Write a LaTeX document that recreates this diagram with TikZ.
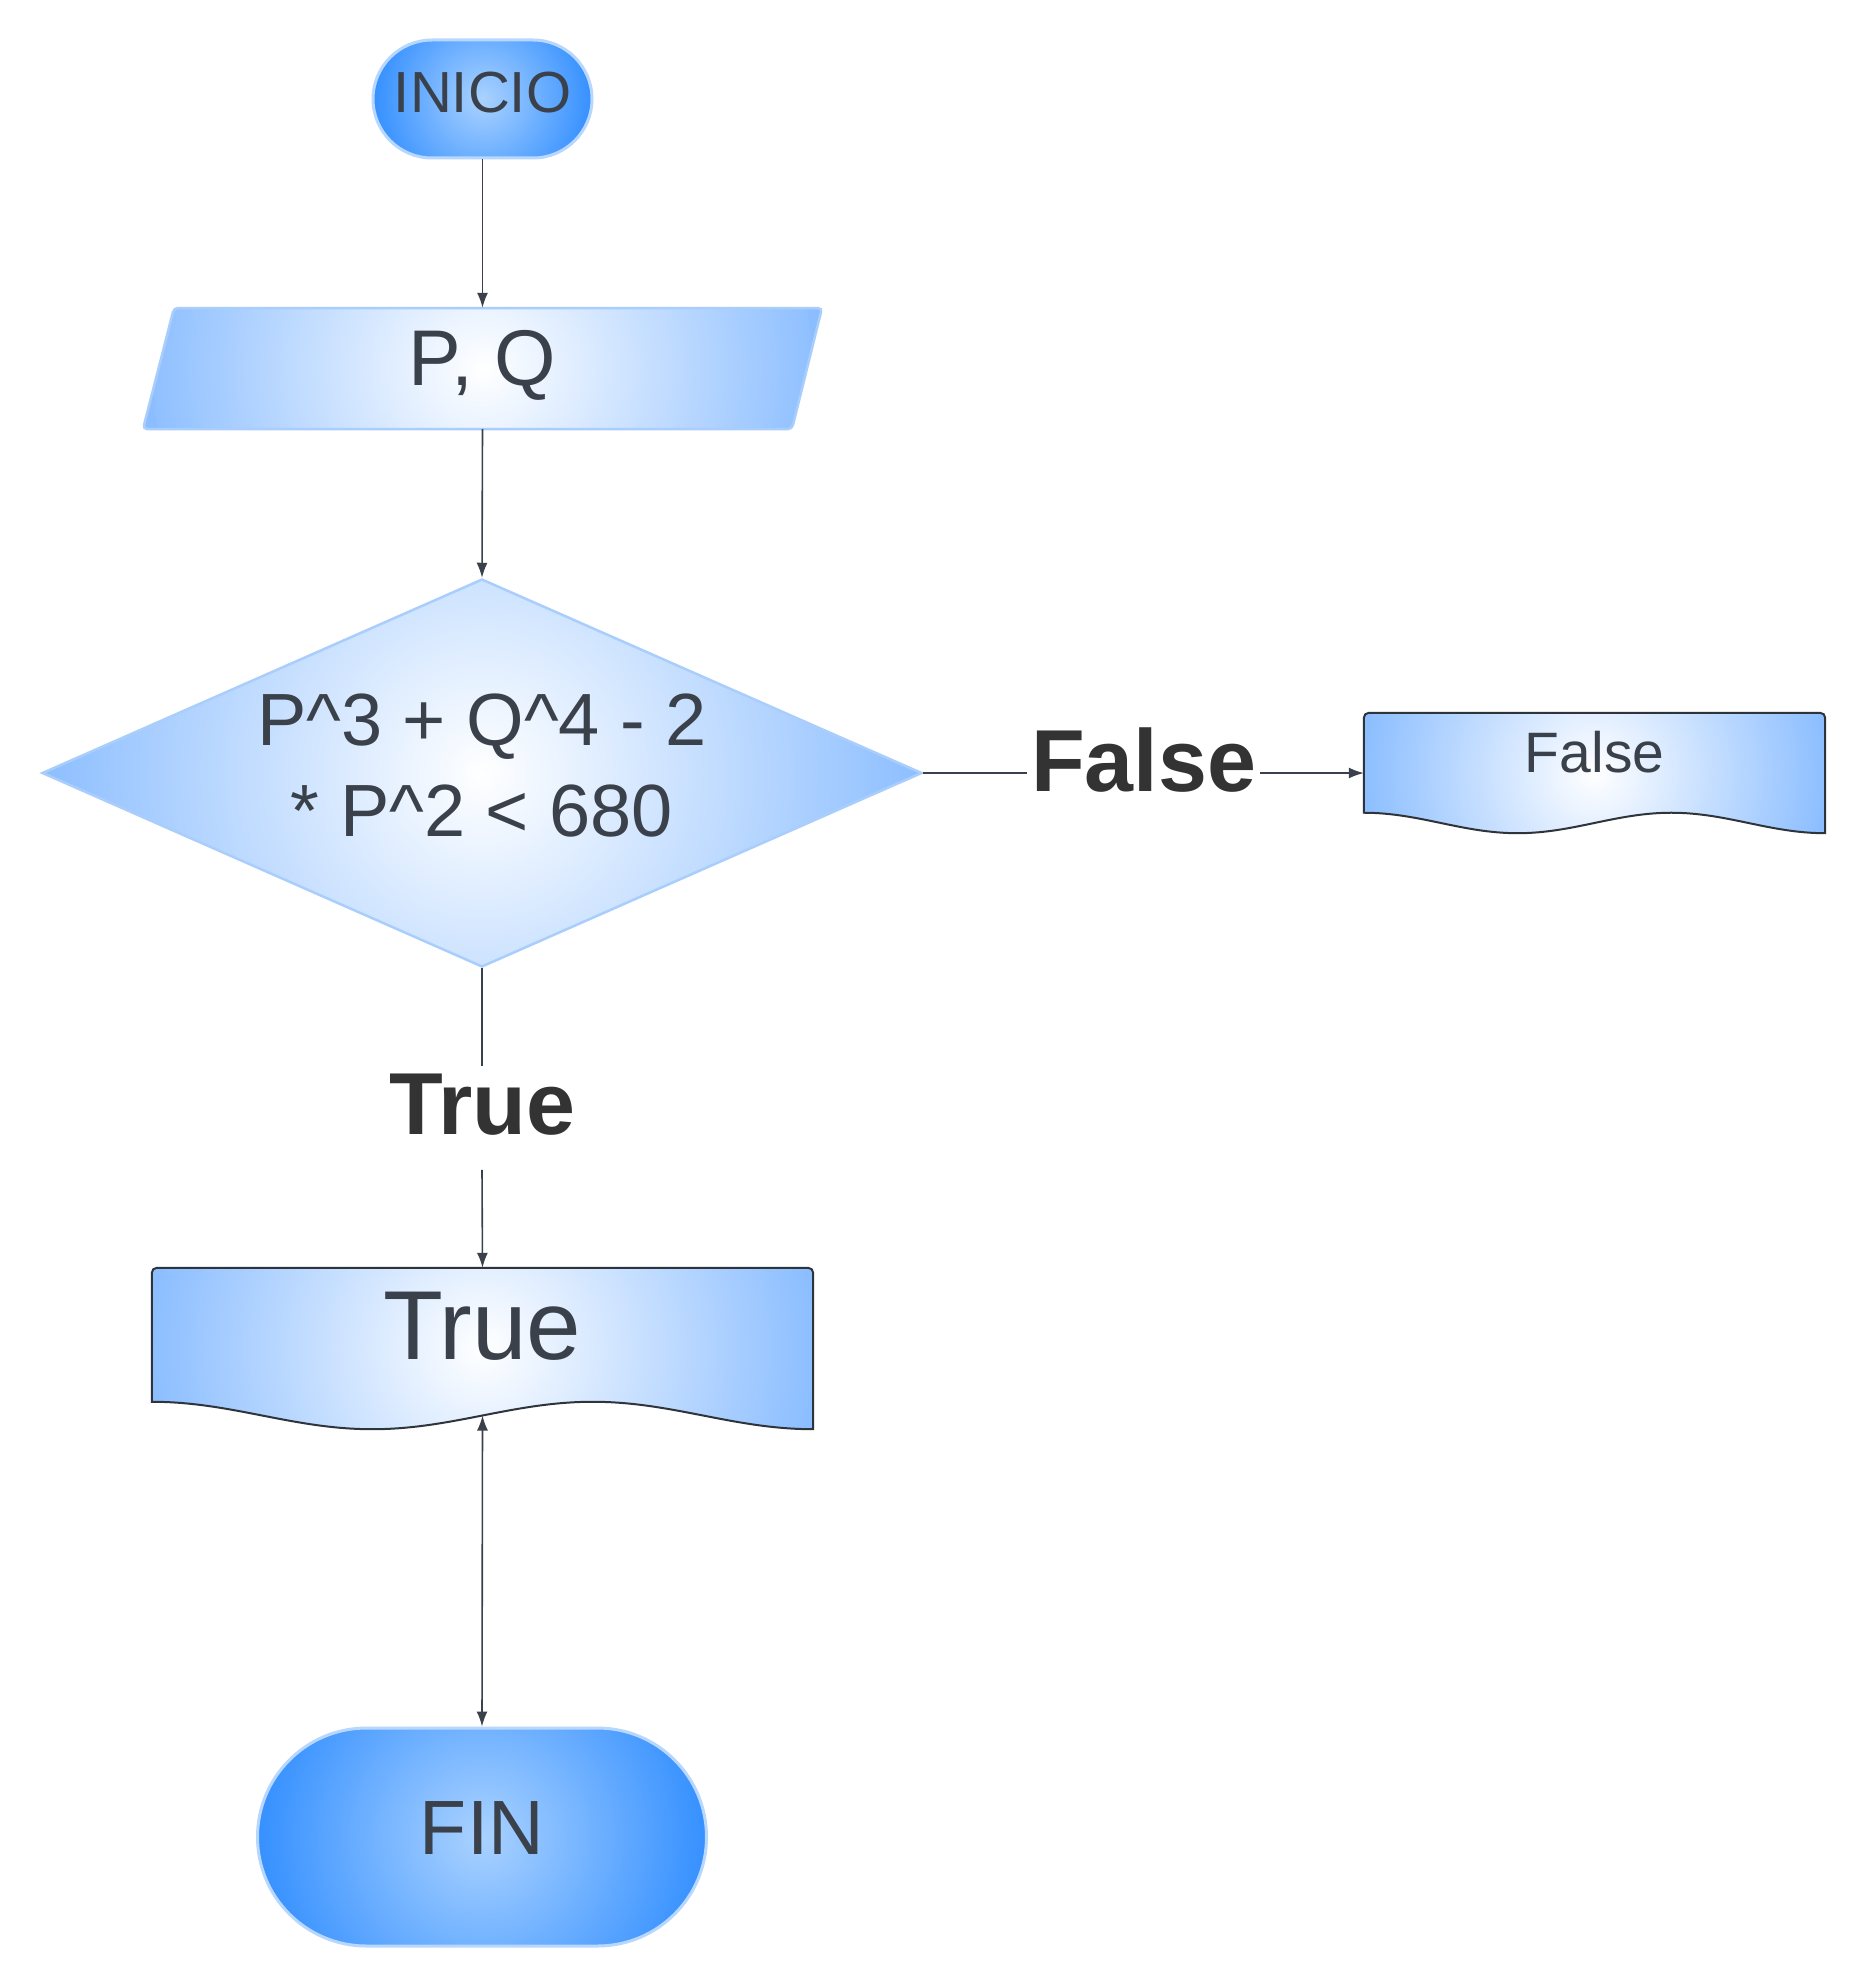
\documentclass[tikz,border=0pt]{standalone}
\usepackage{fontspec}
\setmainfont{Liberation Sans}
\usetikzlibrary{shapes.geometric,arrows.meta,backgrounds,calc}
\definecolor{txt}{HTML}{3A414A}
\definecolor{lbl}{HTML}{333333}
\definecolor{stin}{HTML}{AAD2FF}
\definecolor{stout}{HTML}{3590FF}
\definecolor{stline}{HTML}{B8D7FD}
\definecolor{ltout}{HTML}{8CBEFF}
\definecolor{ltline}{HTML}{AACEFC}
\definecolor{docline}{HTML}{2F343B}
\tikzset{
  glow/.style n args={3}{fill=#2, path picture={\shade[inner color=#1, outer color=#2] (path picture bounding box.center) circle (#3);}},
  stadium/.style={draw=stline, line width=3pt, text=txt, inner sep=0pt},
  lightshape/.style={draw=ltline, line width=2.5pt},
  docshape/.style={draw=docline, line width=2pt},
  plain/.style={inner sep=0pt, text=txt},
  lbl/.style={inner sep=0pt, text=lbl, font=\bfseries\fontsize{88pt}{100pt}\selectfont},
  conn/.style={draw=txt, line width=1.6pt},
  tip/.style={-{Latex[length=15pt,width=11pt]}},
}
\newcommand\docpath[2]{%
  \path[docshape, glow={white}{ltout}{#2}] let \p1=(#1.north west), \p2=(#1.south east),
     \n1={(\x2-\x1)/3}, \n2={0.17*(\y1-\y2)}, \n3={0.363*(\x2-\x1)/3} in
     (\x1,\y2+\n2) [rounded corners=5pt] -- (\x1,\y1) -- (\x2,\y1) [sharp corners] -- (\x2,\y2)
     .. controls (\x2-\n3,\y2) and (\x2-\n1+\n3,\y2+\n2) .. (\x2-\n1,\y2+\n2)
     .. controls (\x2-\n1-\n3,\y2+\n2) and (\x2-2*\n1+\n3,\y2) .. (\x2-2*\n1,\y2)
     .. controls (\x2-2*\n1-\n3,\y2) and (\x1+\n3,\y2+\n2) .. (\x1,\y2+\n2) -- cycle;}
\begin{document}
\begin{tikzpicture}[x=1pt,y=-1pt]
\useasboundingbox (0,0) rectangle (1865,1988);

% start
\node[stadium, minimum width=219pt, minimum height=118pt, rounded corners=59pt,
      glow={stin}{stout}{110pt}] (inicio) at (482.5,99)
  {\fontsize{58pt}{70pt}\selectfont\raisebox{6pt}[\height][\depth]{INICIO}};

% input
\node[plain, minimum width=649pt, minimum height=121pt] (pq) at (482.5,368.5)
  {\fontsize{79pt}{94pt}\selectfont\raisebox{3pt}[\height][\depth]{P, Q}};

% decision
\node[diamond, lightshape, aspect=2.27, minimum width=880pt, minimum height=388pt,
      inner sep=0pt, text=txt, glow={white}{ltout}{440pt}] (dec) at (482,773)
  {\fontsize{74pt}{91pt}\selectfont\begin{tabular}{@{}c@{}}P\textasciicircum 3 + Q\textasciicircum 4 - 2\\ {}* P\textasciicircum 2 < 680\end{tabular}};

% outputs
\node[plain, minimum width=461pt, minimum height=120pt] (falsedoc) at (1594.5,773)
  {\fontsize{57pt}{68pt}\selectfont\raisebox{21pt}[\height][\depth]{False}};
\node[plain, minimum width=661pt, minimum height=161pt] (truedoc) at (482.5,1348.5)
  {\fontsize{98pt}{116pt}\selectfont\raisebox{22.5pt}[\height][\depth]{True}};

% end
\node[stadium, minimum width=449pt, minimum height=218pt, rounded corners=109pt,
      glow={stin}{stout}{225pt}] (fin) at (482,1837)
  {\fontsize{77pt}{90pt}\selectfont\raisebox{9pt}[\height][\depth]{FIN}};

% labels
\node[lbl] (flbl) at (1143.5,760) {False};
\node[lbl] (tlbl) at (482,1105) {True};

\begin{scope}[on background layer]
  \fill[white] (0,0) rectangle (1865,1988);
  \path[lightshape, rounded corners=4pt, glow={white}{ltout}{330pt}]
    (174,308) -- (822,308) -- (792,429) -- (143,429) -- cycle;
  \docpath{falsedoc}{232pt}
  \docpath{truedoc}{332pt}
\end{scope}

% connectors
\draw[conn, tip] (inicio.south) -- (pq.north);
\draw[conn, tip] (pq.south) -- (dec.north);
\draw[conn] (dec.east) -- ([xshift=-4pt]dec.east -| flbl.west);
\draw[conn, tip] ([xshift=4pt]dec.east -| flbl.east) -- (falsedoc.west);
\draw[conn] (dec.south) -- ([yshift=8pt]tlbl.north);
\draw[conn, tip] ([yshift=-34pt]tlbl.south) -- (truedoc.north);
\draw[conn, {Latex[length=15pt,width=11pt]}-{Latex[length=15pt,width=11pt]}]
  ([yshift=13.7pt]truedoc.south) -- (fin.north);
\end{tikzpicture}
\end{document}
